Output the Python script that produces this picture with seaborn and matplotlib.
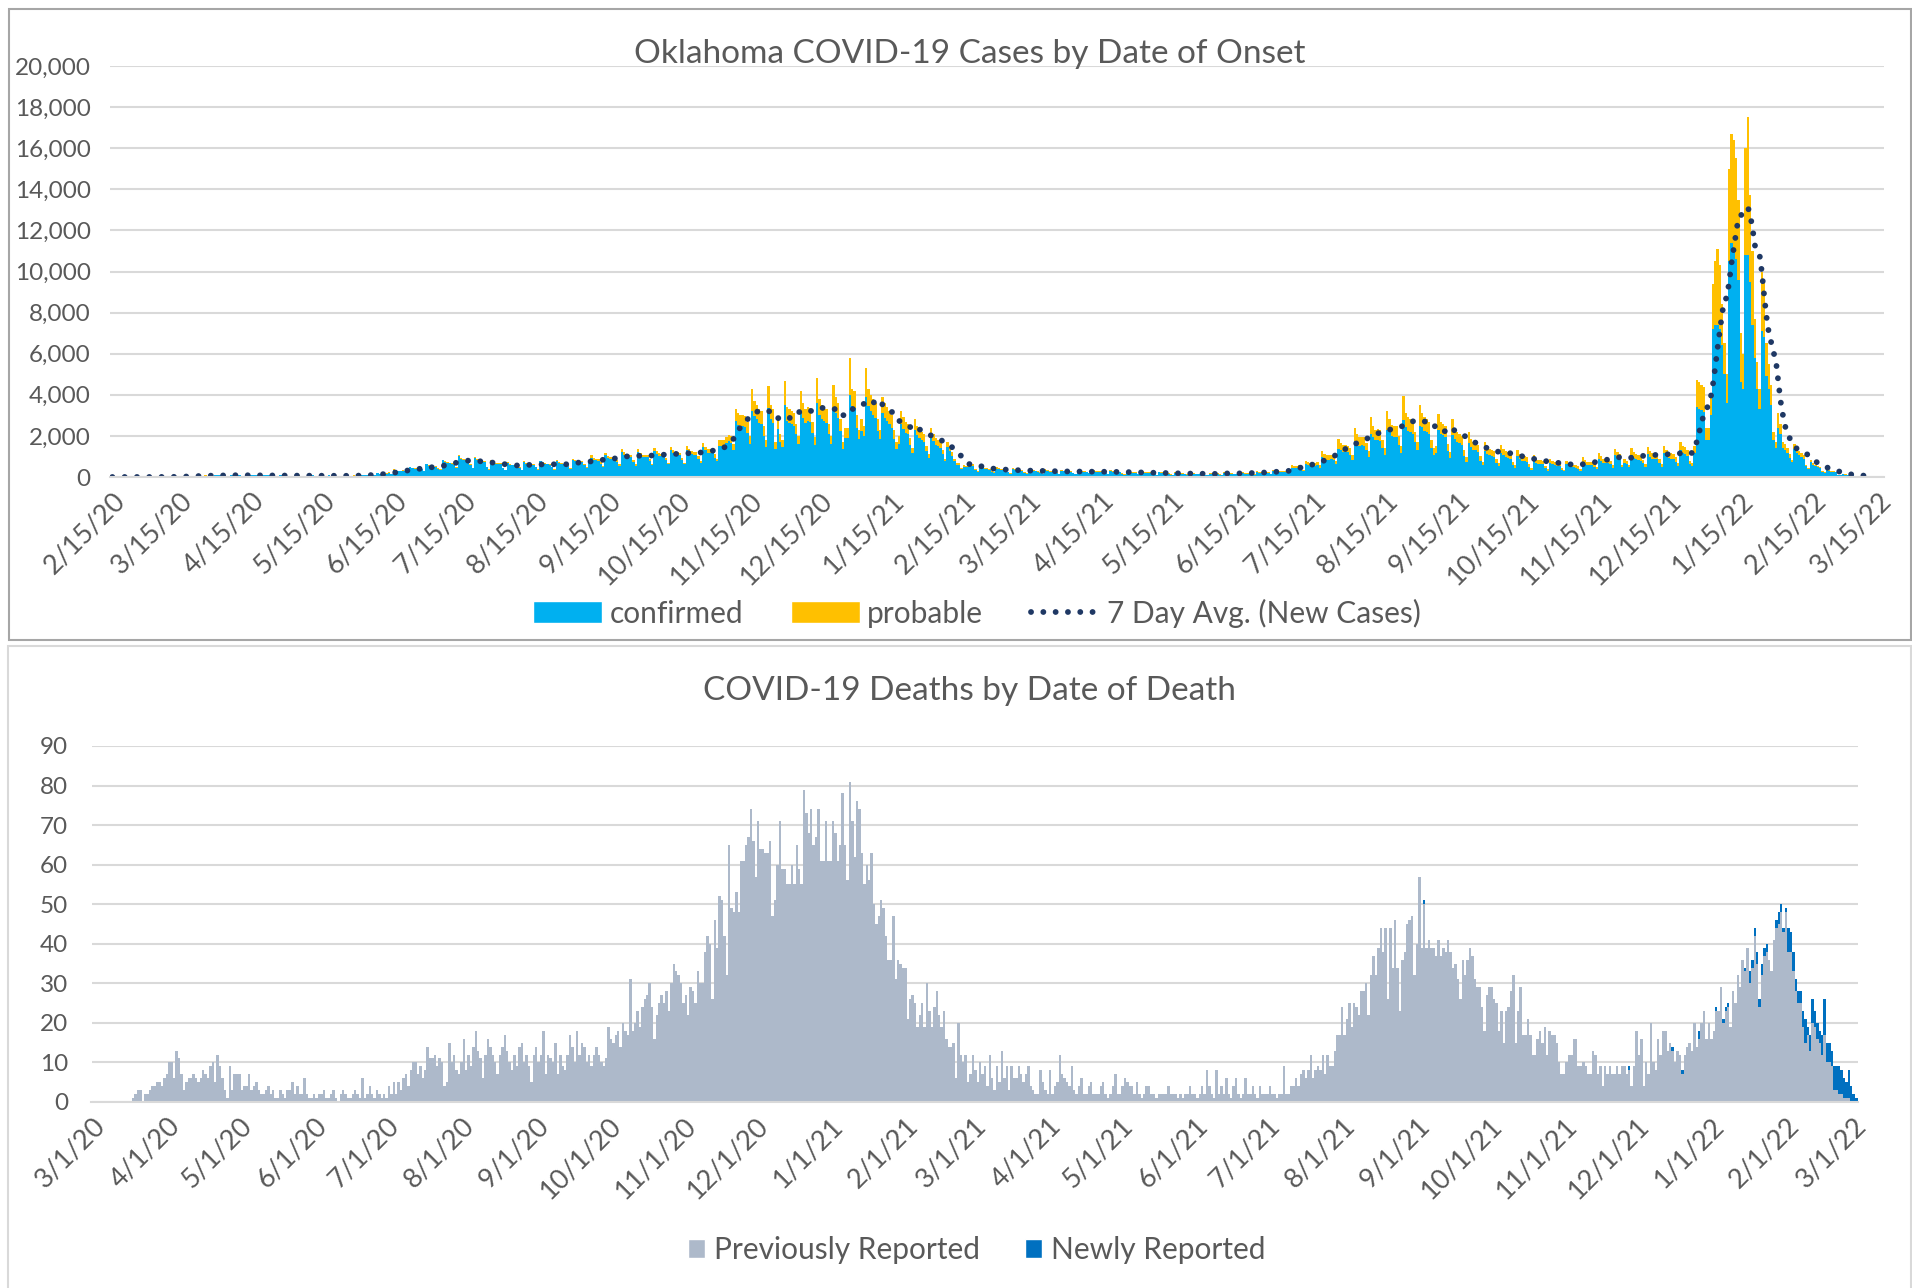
import numpy as np
import pandas as pd
import matplotlib
matplotlib.use('Agg')
import matplotlib.pyplot as plt
import matplotlib.dates as mdates
from matplotlib.patches import Patch, Rectangle
from matplotlib.lines import Line2D
from matplotlib.ticker import FuncFormatter, MultipleLocator
import seaborn as sns

# ---------------- cases by date of onset (one row = one week, Sat..Fri) ----------------
CASES_START = '2020-02-15'
confirmed = [
    0, 0, 0, 0, 0, 0, 0,
    0, 0, 1, 0, 0, 1, 0,
    0, 1, 1, 2, 1, 2, 3,
    2, 3, 6, 8, 9, 12, 14,
    18, 15, 34, 39, 40, 46, 48,
    43, 38, 67, 69, 65, 72, 67,
    57, 48, 95, 90, 88, 86, 84,
    67, 52, 105, 95, 90, 88, 84,
    62, 48, 95, 86, 84, 81, 76,
    57, 43, 90, 81, 76, 74, 71,
    52, 43, 86, 76, 71, 68, 67,
    48, 38, 81, 71, 67, 65, 62,
    46, 36, 76, 67, 63, 59, 57,
    43, 33, 74, 65, 61, 57, 59,
    46, 34, 67, 71, 68, 67, 71,
    62, 48, 105, 95, 93, 100, 105,
    105, 81, 171, 157, 152, 162, 166,
    210, 162, 352, 314, 295, 288, 304,
    295, 228, 485, 437, 410, 396, 409,
    380, 285, 618, 542, 504, 481, 494,
    400, 361, 808, 741, 684, 665, 656,
    608, 456, 998, 874, 812, 789, 770,
    580, 437, 940, 827, 760, 742, 741,
    485, 361, 789, 703, 650, 628, 637,
    428, 323, 694, 608, 572, 548, 566,
    456, 342, 741, 656, 611, 590, 599,
    475, 352, 760, 675, 630, 618, 604,
    470, 348, 761, 667, 620, 611, 598,
    543, 405, 828, 782, 731, 718, 706,
    585, 441, 765, 945, 822, 810, 798,
    648, 486, 1053, 936, 870, 855, 842,
    747, 558, 1215, 1080, 995, 981, 969,
    738, 558, 1206, 1062, 985, 972, 960,
    783, 585, 1278, 1125, 1040, 1026, 1012,
    819, 612, 1332, 1179, 1095, 1080, 1066,
    827, 616, 1338, 1188, 1097, 1082, 1070,
    898, 678, 1461, 1294, 1190, 1179, 1165,
    935, 765, 1530, 1530, 1530, 1658, 1743,
    1640, 1312, 2706, 2542, 2460, 2480, 2440,
    2160, 1600, 3225, 2960, 2800, 2640, 2560,
    2000, 1440, 3340, 2800, 2640, 1360, 2320,
    1680, 1440, 3490, 2720, 2640, 2560, 2480,
    2080, 1600, 3150, 2880, 2640, 2720, 2700,
    2160, 1560, 3600, 3040, 2800, 2720, 2640,
    2080, 1600, 3375, 3120, 2880, 2240, 1360,
    1920, 1920, 4000, 3440, 3360, 2400, 1840,
    2240, 2000, 3900, 3440, 3200, 3040, 2880,
    2240, 1840, 3100, 2880, 2720, 2560, 2400,
    1840, 1360, 1600, 2560, 2320, 2160, 2080,
    1560, 1150, 2300, 2050, 1890, 1800, 1720,
    1250, 910, 1990, 1740, 1580, 1490, 1410,
    1100, 770, 1450, 1280, 1020, 770, 600,
    600, 380, 510, 470, 510, 550, 550,
    330, 260, 490, 420, 380, 370, 350,
    260, 200, 410, 370, 330, 320, 300,
    230, 170, 370, 320, 300, 290, 280,
    210, 160, 340, 310, 280, 270, 260,
    190, 150, 320, 280, 260, 250, 250,
    190, 140, 310, 270, 250, 250, 240,
    180, 130, 300, 260, 250, 240, 230,
    180, 140, 300, 260, 240, 240, 230,
    180, 130, 290, 250, 230, 230, 220,
    160, 120, 260, 240, 210, 210, 200,
    150, 110, 240, 210, 190, 190, 180,
    130, 100, 220, 190, 180, 180, 170,
    120, 90, 190, 170, 160, 160, 150,
    110, 90, 170, 160, 150, 150, 140,
    100, 80, 100, 170, 170, 160, 160,
    120, 90, 190, 170, 160, 160, 150,
    130, 100, 220, 190, 170, 170, 170,
    150, 110, 250, 210, 200, 190, 190,
    180, 130, 300, 270, 240, 240, 250,
    250, 210, 270, 460, 430, 450, 460,
    380, 290, 640, 580, 530, 540, 550,
    580, 450, 960, 900, 840, 850, 860,
    840, 640, 1380, 1300, 1220, 1240, 1200,
    1090, 820, 1750, 1640, 1520, 1540, 1500,
    1290, 980, 2100, 1950, 1790, 1810, 1770,
    1400, 1090, 2300, 2180, 1990, 1950, 1950,
    1560, 1170, 2750, 2420, 2260, 2180, 2110,
    1720, 1330, 2500, 2420, 2260, 2180, 2110,
    1400, 1090, 1170, 2300, 2110, 2030, 1950,
    1250, 940, 2050, 1870, 1720, 1640, 1560,
    1010, 740, 1650, 1440, 1330, 1290, 1210,
    780, 590, 1280, 1130, 1050, 1010, 980,
    700, 530, 1160, 1050, 980, 940, 900,
    590, 440, 1000, 860, 780, 780, 740,
    480, 360, 810, 700, 650, 640, 620,
    420, 310, 700, 620, 560, 550, 550,
    360, 270, 610, 530, 480, 470, 460,
    410, 310, 740, 640, 590, 580, 580,
    510, 390, 900, 780, 700, 700, 690,
    610, 450, 1050, 940, 860, 470, 700,
    620, 470, 1090, 940, 860, 820, 780,
    660, 500, 1130, 980, 900, 900, 860,
    680, 510, 1170, 1010, 940, 900, 860,
    740, 550, 1330, 1170, 1130, 1010, 620,
    540, 1150, 3400, 3300, 3250, 3150, 1800,
    1800, 3000, 7200, 7400, 7400, 7200, 6400,
    5000, 3600, 10500, 11400, 11000, 10600, 9600,
    4600, 4300, 10800, 10800, 9500, 7400, 5800,
    4300, 3300, 7100, 6800, 4900, 4300, 3500,
    1800, 1400, 2400, 2100, 1400, 1300, 1150,
    940, 720, 1360, 1190, 1060, 980, 890,
    520, 390, 730, 600, 520, 470, 430,
    265, 195, 355, 300, 265, 240, 220,
    108, 82, 135, 117, 100, 90, 82,
    55, 40, 63, 50, 36,
]
probable = [
    0, 0, 0, 0, 0, 0, 0,
    0, 0, 0, 0, 0, 0, 0,
    0, 0, 0, 0, 0, 0, 0,
    0, 0, 0, 0, 0, 0, 1,
    0, 0, 1, 1, 2, 2, 2,
    2, 2, 3, 3, 3, 3, 3,
    3, 2, 5, 5, 4, 4, 4,
    3, 3, 5, 5, 5, 4, 4,
    3, 2, 5, 4, 4, 4, 4,
    3, 2, 5, 4, 4, 4, 4,
    3, 2, 4, 4, 4, 4, 3,
    2, 2, 4, 4, 3, 3, 3,
    2, 2, 4, 3, 3, 3, 3,
    2, 2, 4, 3, 3, 3, 3,
    2, 2, 3, 4, 4, 3, 4,
    3, 2, 5, 5, 5, 5, 5,
    5, 4, 9, 8, 8, 8, 9,
    10, 8, 18, 16, 15, 15, 16,
    15, 12, 25, 23, 20, 20, 21,
    20, 15, 32, 28, 26, 26, 26,
    20, 19, 42, 39, 36, 35, 34,
    32, 24, 52, 46, 42, 41, 41,
    30, 23, 50, 43, 40, 40, 39,
    25, 19, 41, 37, 33, 33, 33,
    22, 17, 36, 32, 30, 30, 30,
    24, 18, 39, 34, 31, 31, 31,
    25, 18, 40, 35, 32, 32, 32,
    30, 22, 49, 43, 39, 39, 39,
    47, 35, 72, 68, 62, 62, 62,
    65, 49, 85, 105, 90, 90, 90,
    72, 54, 117, 104, 95, 95, 95,
    83, 62, 135, 120, 109, 109, 109,
    82, 62, 134, 118, 108, 108, 108,
    87, 65, 142, 125, 114, 114, 114,
    91, 68, 148, 131, 120, 120, 120,
    113, 84, 182, 162, 148, 148, 148,
    122, 92, 199, 176, 161, 161, 161,
    165, 135, 270, 270, 270, 292, 307,
    360, 288, 594, 558, 540, 540, 540,
    540, 400, 1075, 740, 700, 660, 640,
    500, 360, 1110, 700, 660, 340, 580,
    420, 360, 1160, 680, 660, 640, 620,
    520, 400, 1050, 720, 660, 680, 680,
    540, 390, 1200, 760, 700, 680, 660,
    520, 400, 1125, 780, 720, 560, 340,
    480, 480, 1800, 860, 840, 600, 460,
    560, 500, 1400, 860, 800, 760, 720,
    560, 460, 800, 720, 680, 640, 600,
    460, 340, 400, 640, 580, 540, 520,
    340, 250, 500, 450, 410, 400, 380,
    250, 190, 410, 360, 320, 310, 290,
    200, 130, 250, 220, 180, 130, 100,
    100, 70, 90, 80, 90, 100, 100,
    50, 40, 70, 60, 60, 50, 50,
    40, 30, 60, 50, 50, 50, 50,
    30, 30, 50, 50, 40, 40, 40,
    30, 20, 50, 40, 40, 40, 40,
    30, 20, 50, 40, 40, 40, 30,
    30, 20, 40, 40, 40, 30, 30,
    30, 20, 40, 40, 30, 30, 30,
    30, 20, 40, 40, 30, 30, 30,
    20, 20, 40, 40, 30, 30, 30,
    20, 20, 40, 30, 30, 30, 30,
    20, 20, 30, 30, 30, 30, 30,
    20, 10, 30, 30, 20, 20, 20,
    20, 10, 30, 30, 20, 20, 20,
    20, 10, 30, 30, 20, 20, 20,
    20, 10, 10, 30, 30, 30, 20,
    20, 10, 30, 30, 20, 20, 20,
    20, 10, 30, 30, 30, 30, 30,
    30, 20, 40, 40, 40, 40, 40,
    40, 30, 60, 50, 50, 50, 50,
    50, 40, 60, 100, 90, 90, 100,
    100, 70, 160, 140, 130, 130, 140,
    140, 110, 290, 230, 210, 210, 220,
    210, 160, 470, 350, 330, 330, 330,
    310, 230, 650, 460, 430, 430, 430,
    360, 270, 800, 550, 510, 510, 510,
    400, 310, 900, 620, 560, 550, 550,
    440, 330, 1200, 680, 640, 620, 590,
    480, 370, 1000, 680, 640, 620, 590,
    400, 310, 330, 750, 590, 570, 550,
    350, 260, 750, 530, 480, 460, 440,
    290, 210, 550, 410, 370, 360, 340,
    220, 160, 420, 320, 300, 290, 270,
    200, 150, 390, 300, 270, 260, 250,
    160, 120, 300, 240, 220, 220, 210,
    140, 100, 240, 200, 180, 180, 180,
    120, 90, 200, 170, 160, 160, 150,
    100, 70, 170, 150, 140, 130, 130,
    110, 90, 210, 180, 160, 160, 160,
    140, 110, 250, 220, 200, 200, 190,
    170, 130, 300, 260, 240, 130, 200,
    180, 130, 310, 260, 240, 230, 220,
    190, 140, 320, 270, 250, 250, 240,
    190, 140, 330, 290, 260, 250, 240,
    210, 150, 370, 330, 320, 290, 180,
    160, 350, 1300, 1300, 1250, 1250, 600,
    600, 1000, 2200, 3100, 3700, 3100, 2000,
    1500, 1400, 4500, 5300, 5400, 4900, 3900,
    2400, 1700, 5200, 6700, 4200, 3600, 1900,
    1300, 1000, 2900, 2700, 1600, 1200, 1000,
    400, 300, 700, 500, 300, 300, 250,
    160, 130, 240, 210, 190, 170, 160,
    80, 60, 120, 100, 80, 80, 70,
    35, 25, 45, 40, 35, 30, 30,
    12, 8, 15, 13, 10, 10, 8,
    5, 5, 7, 5, 4,
]

# ---------------- deaths by date of death (one row = one month) ----------------
DEATHS_START = '2020-03-01'
deaths_prev = [
    0, 0, 0, 0, 0, 0, 0, 0, 0, 0, 0, 0, 0, 0, 0, 0, 0, 1, 2, 3, 3, 0, 2, 2, 3, 4, 4, 5, 5, 4, 6,
    7, 10, 10, 6, 13, 11, 7, 3, 5, 6, 6, 7, 6, 5, 6, 8, 7, 6, 9, 10, 5, 12, 9, 6, 3, 1, 9, 3, 7, 7,
    7, 3, 4, 4, 7, 3, 4, 5, 3, 2, 2, 3, 4, 2, 3, 1, 1, 3, 2, 1, 3, 3, 5, 2, 4, 2, 2, 6, 2, 1, 1,
    2, 1, 2, 2, 3, 1, 1, 2, 3, 1, 0, 2, 3, 2, 1, 1, 2, 3, 2, 1, 6, 1, 2, 4, 2, 1, 3, 2, 1, 2,
    1, 4, 2, 5, 2, 5, 3, 6, 7, 4, 8, 10, 10, 7, 9, 6, 8, 14, 11, 11, 12, 9, 11, 10, 4, 5, 15, 10, 12, 8, 7,
    10, 16, 8, 12, 9, 14, 18, 13, 11, 6, 12, 16, 14, 12, 10, 7, 12, 14, 17, 13, 10, 8, 12, 9, 14, 15, 10, 12, 9, 5, 12,
    14, 10, 12, 18, 7, 12, 11, 10, 15, 7, 12, 9, 8, 12, 17, 14, 10, 18, 12, 15, 14, 10, 12, 9, 12, 14, 12, 10, 9, 11,
    19, 16, 15, 17, 18, 14, 20, 18, 17, 31, 18, 20, 23, 19, 24, 26, 27, 30, 24, 16, 22, 25, 27, 25, 28, 23, 30, 35, 33, 32, 30,
    25, 27, 22, 29, 28, 25, 33, 30, 30, 38, 42, 40, 26, 46, 39, 52, 51, 42, 32, 65, 49, 48, 53, 48, 61, 61, 65, 67, 74, 66,
    57, 71, 64, 64, 63, 63, 66, 47, 51, 60, 71, 59, 59, 55, 55, 60, 55, 65, 59, 55, 79, 73, 68, 74, 65, 67, 74, 61, 61, 71, 61,
    61, 71, 68, 61, 65, 78, 65, 56, 81, 71, 62, 76, 74, 63, 55, 60, 56, 63, 50, 45, 47, 51, 49, 42, 36, 36, 47, 31, 36, 35, 34,
    34, 21, 26, 27, 25, 19, 22, 25, 19, 30, 23, 19, 24, 28, 22, 19, 23, 16, 14, 14, 15, 6, 20, 12, 10, 12, 5, 7,
    12, 8, 5, 10, 7, 9, 4, 12, 6, 3, 9, 5, 13, 6, 9, 3, 9, 6, 6, 9, 7, 5, 7, 9, 4, 3, 2, 2, 8, 5, 3,
    2, 8, 2, 4, 5, 12, 7, 6, 5, 4, 9, 3, 2, 4, 6, 2, 2, 4, 5, 2, 2, 2, 4, 5, 2, 1, 2, 4, 7, 2,
    2, 4, 6, 5, 4, 4, 2, 5, 2, 1, 2, 4, 4, 2, 2, 1, 2, 2, 2, 2, 4, 2, 2, 2, 1, 2, 1, 2, 2, 4, 2,
    2, 1, 2, 4, 2, 8, 4, 2, 1, 8, 2, 4, 2, 6, 2, 1, 4, 6, 2, 1, 2, 6, 2, 2, 4, 2, 1, 4, 2, 2,
    2, 4, 2, 2, 1, 2, 2, 9, 2, 2, 4, 4, 6, 4, 7, 8, 6, 8, 12, 6, 8, 9, 8, 12, 7, 12, 9, 9, 13, 17, 17,
    24, 17, 21, 25, 19, 25, 24, 22, 28, 28, 30, 22, 32, 37, 32, 39, 44, 38, 44, 26, 44, 34, 46, 34, 23, 36, 38, 45, 46, 47, 32,
    40, 57, 39, 50, 39, 41, 39, 39, 37, 41, 37, 39, 38, 41, 38, 34, 35, 31, 26, 36, 32, 36, 39, 37, 31, 29, 29, 24, 18, 27,
    29, 29, 26, 25, 18, 23, 15, 23, 24, 28, 32, 15, 23, 29, 17, 17, 21, 17, 12, 12, 16, 18, 15, 19, 12, 18, 17, 17, 15, 10, 7,
    7, 10, 12, 12, 16, 16, 9, 9, 10, 9, 7, 7, 13, 12, 7, 9, 4, 9, 7, 9, 7, 7, 9, 7, 9, 9, 7, 8, 4, 9,
    18, 12, 16, 4, 10, 7, 20, 10, 8, 16, 12, 18, 18, 13, 15, 13, 10, 13, 12, 7, 12, 14, 15, 13, 20, 14, 16, 20, 23, 16, 20,
    16, 18, 23, 23, 29, 20, 23, 24, 19, 28, 25, 32, 29, 36, 33, 39, 30, 34, 42, 35, 24, 32, 37, 38, 36, 33, 41, 44, 45, 48, 43,
    48, 38, 38, 33, 28, 25, 25, 19, 15, 17, 13, 20, 19, 16, 15, 12, 17, 10, 10, 9, 3, 3, 2, 2, 1, 1, 1, 0,
    0, 0, 0,
]
NEW_START = '2021-09-01'
deaths_new = [
    0, 0, 0, 1, 0, 0, 0, 0, 0, 0, 0, 0, 0, 0, 0, 0, 0, 0, 0, 0, 0, 0, 0, 0, 0, 0, 0, 0, 0, 0,
    0, 0, 0, 0, 0, 0, 0, 0, 0, 0, 0, 0, 0, 0, 0, 0, 0, 0, 0, 0, 0, 0, 0, 0, 0, 0, 0, 0, 0, 0, 0,
    0, 0, 0, 0, 0, 0, 0, 0, 0, 0, 0, 0, 0, 0, 0, 0, 0, 0, 0, 0, 0, 0, 0, 0, 0, 0, 0, 1, 0, 0,
    0, 0, 0, 0, 0, 0, 0, 0, 0, 0, 0, 0, 0, 0, 0, 1, 0, 0, 0, 1, 0, 0, 0, 0, 0, 0, 2, 0, 0, 0, 0,
    0, 0, 1, 0, 0, 1, 1, 1, 0, 0, 0, 0, 0, 0, 1, 0, 3, 2, 2, 3, 2, 3, 2, 2, 0, 0, 0, 2, 3, 2, 1,
    1, 6, 5, 5, 3, 3, 3, 4, 6, 2, 4, 6, 4, 4, 3, 5, 9, 5, 5, 4, 6, 6, 7, 6, 5, 4, 7, 4,
    2, 1, 1,
]

CONF_C, PROB_C, AVG_C = '#00B0F0', '#FFC000', '#1F3864'
PREV_C, NEW_C = '#ADB9CA', '#0070C0'
TEXT_C, GRID_C = '#595959', '#D9D9D9'

sns.set_style('white')
plt.rcParams['font.family'] = ['Lato', 'DejaVu Sans']

W, H = 1912, 1288
fig = plt.figure(figsize=(W / 100, H / 100), dpi=100)

# panel frames
fig.add_artist(Rectangle((9 / W, 1 - 640 / H), (1911 - 9) / W, (640 - 9) / H,
                         transform=fig.transFigure, fill=False, edgecolor='#A6A6A6', lw=1.5))
fig.add_artist(Rectangle((8 / W, -0.01), (1911 - 8) / W, 0.01 + 1 - 646 / H,
                         transform=fig.transFigure, fill=False, edgecolor=GRID_C, lw=1.5))

# ---------------- top chart ----------------
assert len(confirmed) == len(probable)
case_days = pd.date_range(CASES_START, periods=len(confirmed), freq='D')
xc = mdates.date2num(case_days)
cases = pd.DataFrame({
    'day': np.concatenate([xc, xc]),
    'count': confirmed + probable,
    'kind': ['confirmed'] * len(xc) + ['probable'] * len(xc),
})
avg7 = pd.Series(np.array(confirmed) + np.array(probable)).rolling(7, min_periods=1).mean()

ax1 = fig.add_axes([110 / W, 1 - 477 / H, (1884 - 110) / W, (477 - 66) / H])
sns.histplot(cases, x='day', weights='count', hue='kind', hue_order=['probable', 'confirmed'],
             multiple='stack', discrete=True, palette={'confirmed': CONF_C, 'probable': PROB_C},
             alpha=1, linewidth=0, legend=False, ax=ax1)
sns.lineplot(x=xc, y=avg7.values, color=AVG_C, lw=4.2, linestyle=(0, (0.01, 2.1)),
             dash_capstyle='round', estimator=None, ax=ax1)
ax1.set_ylim(0, 20000)
ax1.set_xlim(mdates.date2num(pd.Timestamp('2020-02-15')) - 1,
             mdates.date2num(pd.Timestamp('2022-03-15')) + 2.5)
ax1.yaxis.set_major_locator(MultipleLocator(2000))
ax1.yaxis.set_major_formatter(FuncFormatter(lambda v, p: f'{v:,.0f}'))
ax1.xaxis.set_major_locator(mdates.MonthLocator(bymonthday=15))
ax1.xaxis.set_major_formatter(mdates.DateFormatter('%-m/%-d/%y'))

# ---------------- bottom chart ----------------
death_days = pd.date_range(DEATHS_START, periods=len(deaths_prev), freq='D')
new_series = pd.Series(deaths_new, index=pd.date_range(NEW_START, periods=len(deaths_new), freq='D'))
new_full = new_series.reindex(death_days, fill_value=0)
xd = mdates.date2num(death_days)
deaths = pd.DataFrame({
    'day': np.concatenate([xd, xd]),
    'count': list(deaths_prev) + list(new_full.values),
    'kind': ['Previously Reported'] * len(xd) + ['Newly Reported'] * len(xd),
})

ax2 = fig.add_axes([91.5 / W, 1 - 1102 / H, (1858 - 91.5) / W, (1102 - 746) / H])
sns.histplot(deaths, x='day', weights='count', hue='kind',
             hue_order=['Newly Reported', 'Previously Reported'],
             multiple='stack', discrete=True,
             palette={'Previously Reported': PREV_C, 'Newly Reported': NEW_C},
             alpha=1, linewidth=0, legend=False, ax=ax2)
ax2.set_ylim(0, 90)
ax2.set_xlim(mdates.date2num(pd.Timestamp('2020-03-01')) - 0.3,
             mdates.date2num(pd.Timestamp('2022-03-01')) + 1.8)
ax2.yaxis.set_major_locator(MultipleLocator(10))
ax2.xaxis.set_major_locator(mdates.MonthLocator(bymonthday=1))
ax2.xaxis.set_major_formatter(mdates.DateFormatter('%-m/%-d/%y'))

for ax, ypad in ((ax1, 14), (ax2, 17)):
    ax.set_xlabel('')
    ax.set_ylabel('')
    ax.set_axisbelow(True)
    ax.yaxis.grid(True, color=GRID_C, lw=1.5)
    ax.xaxis.grid(False)
    for s in ('top', 'right', 'left'):
        ax.spines[s].set_visible(False)
    ax.spines['bottom'].set_color(GRID_C)
    ax.spines['bottom'].set_linewidth(1.5)
    ax.tick_params(axis='y', length=0, pad=ypad, labelsize=17.5, labelcolor=TEXT_C)
    ax.tick_params(axis='x', length=6, width=1.5, color=GRID_C, pad=2,
                   labelsize=19.5, labelcolor=TEXT_C, labelrotation=45)
    for lab in ax.get_xticklabels():
        lab.set_ha('right')
        lab.set_rotation_mode('anchor')

fig.text(0.507, 1 - 54 / H, 'Oklahoma COVID-19 Cases by Date of Onset', ha='center', va='center',
         fontsize=24, color=TEXT_C)
fig.text(0.507, 1 - 691 / H, 'COVID-19 Deaths by Date of Death', ha='center', va='center',
         fontsize=24, color=TEXT_C)

top_handles = [Patch(facecolor=CONF_C), Patch(facecolor=PROB_C),
               Line2D([], [], color=AVG_C, lw=4.2, linestyle=(0, (0.01, 2.1)), dash_capstyle='round')]
fig.legend(top_handles, ['confirmed', 'probable', '7 Day Avg. (New Cases)'], loc='center',
           bbox_to_anchor=(0.511, 1 - 613 / H), ncol=3, frameon=False, fontsize=21.5,
           handlelength=2.3, handleheight=0.72, handletextpad=0.25, columnspacing=1.6,
           labelcolor=TEXT_C)
bottom_handles = [Patch(facecolor=PREV_C), Patch(facecolor=NEW_C)]
fig.legend(bottom_handles, ['Previously Reported', 'Newly Reported'], loc='center',
           bbox_to_anchor=(0.511, 1 - 1250 / H), ncol=2, frameon=False, fontsize=21.5,
           handlelength=0.58, handleheight=0.58, handletextpad=0.3, columnspacing=1.5,
           labelcolor=TEXT_C)

fig.savefig('out.png', dpi=100)
